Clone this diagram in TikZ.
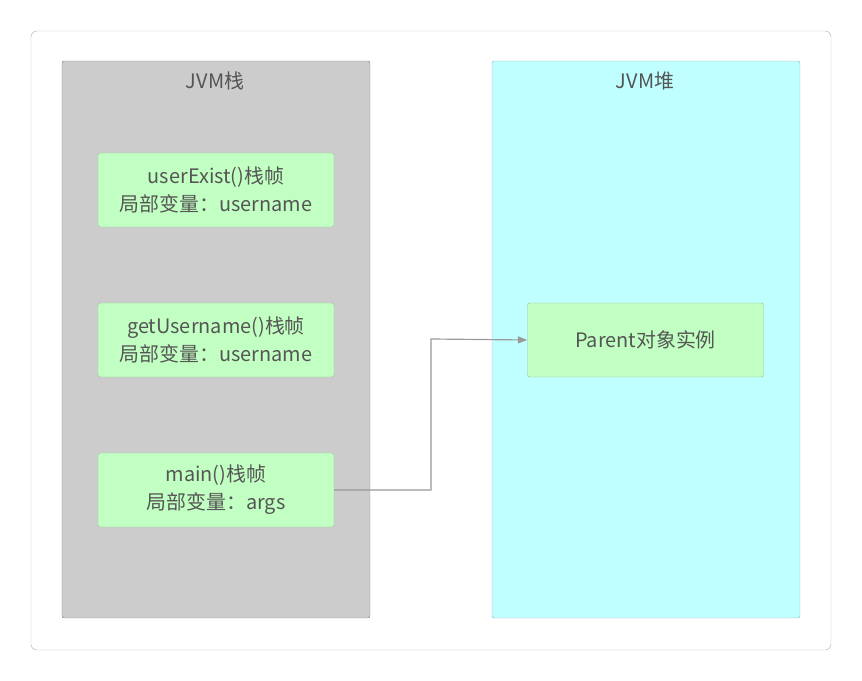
\documentclass[tikz,border=0pt]{standalone}
\usepackage{fontspec}
\setmainfont{Noto Sans CJK SC}
\usepackage{tikz}
\usetikzlibrary{positioning,arrows.meta}
\definecolor{txt}{HTML}{555555}
\definecolor{frame}{HTML}{B8B8B8}
\definecolor{green}{HTML}{C2FFC2}
\definecolor{heapfill}{HTML}{C0FFFF}
\tikzset{
  frameBox/.style = {draw=#1!50!gray, fill=#1, rounded corners=2pt, align=center,
    text=txt, minimum width=7.08cm, minimum height=2.22cm,
    font=\fontsize{17}{24}\selectfont},
  title/.style = {text=txt, font=\fontsize{17}{20}\selectfont}
}
\begin{document}
\begin{tikzpicture}[x=0.03cm, y=-0.03cm]
\useasboundingbox (0,0) rectangle (862,681);
\draw[frame, fill=white, rounded corners=5pt] (31,31) rectangle (831,650);

\fill[gray!40] (62,61) rectangle (370,618);
\draw[gray!90, rounded corners=2pt] (62,61) rectangle (370,618);
\fill[heapfill] (492,61) rectangle (800,618);
\draw[heapfill!50!gray, rounded corners=2pt] (492,61) rectangle (800,618);

\node (stack) at (215,81) [title] {JVM栈};
\node (heap) at (645,81) [title] {JVM堆};

\node (userExist) at (216,190) [frameBox=green] {userExist()栈帧\\局部变量：username};
\node (getName) at (216,340) [frameBox=green] {getUsername()栈帧\\局部变量：username};
\node (main) at (216,490) [frameBox=green] {main()栈帧\\局部变量：args};

\node (parent) at (645.5,340) [frameBox=green] {Parent对象实例};

\draw[-{Triangle[length=8pt,width=6pt]}, gray!80, line width=1pt] (main.east) -- (431,490) -- (431,339) -- (parent.west);
\end{tikzpicture}
\end{document}
